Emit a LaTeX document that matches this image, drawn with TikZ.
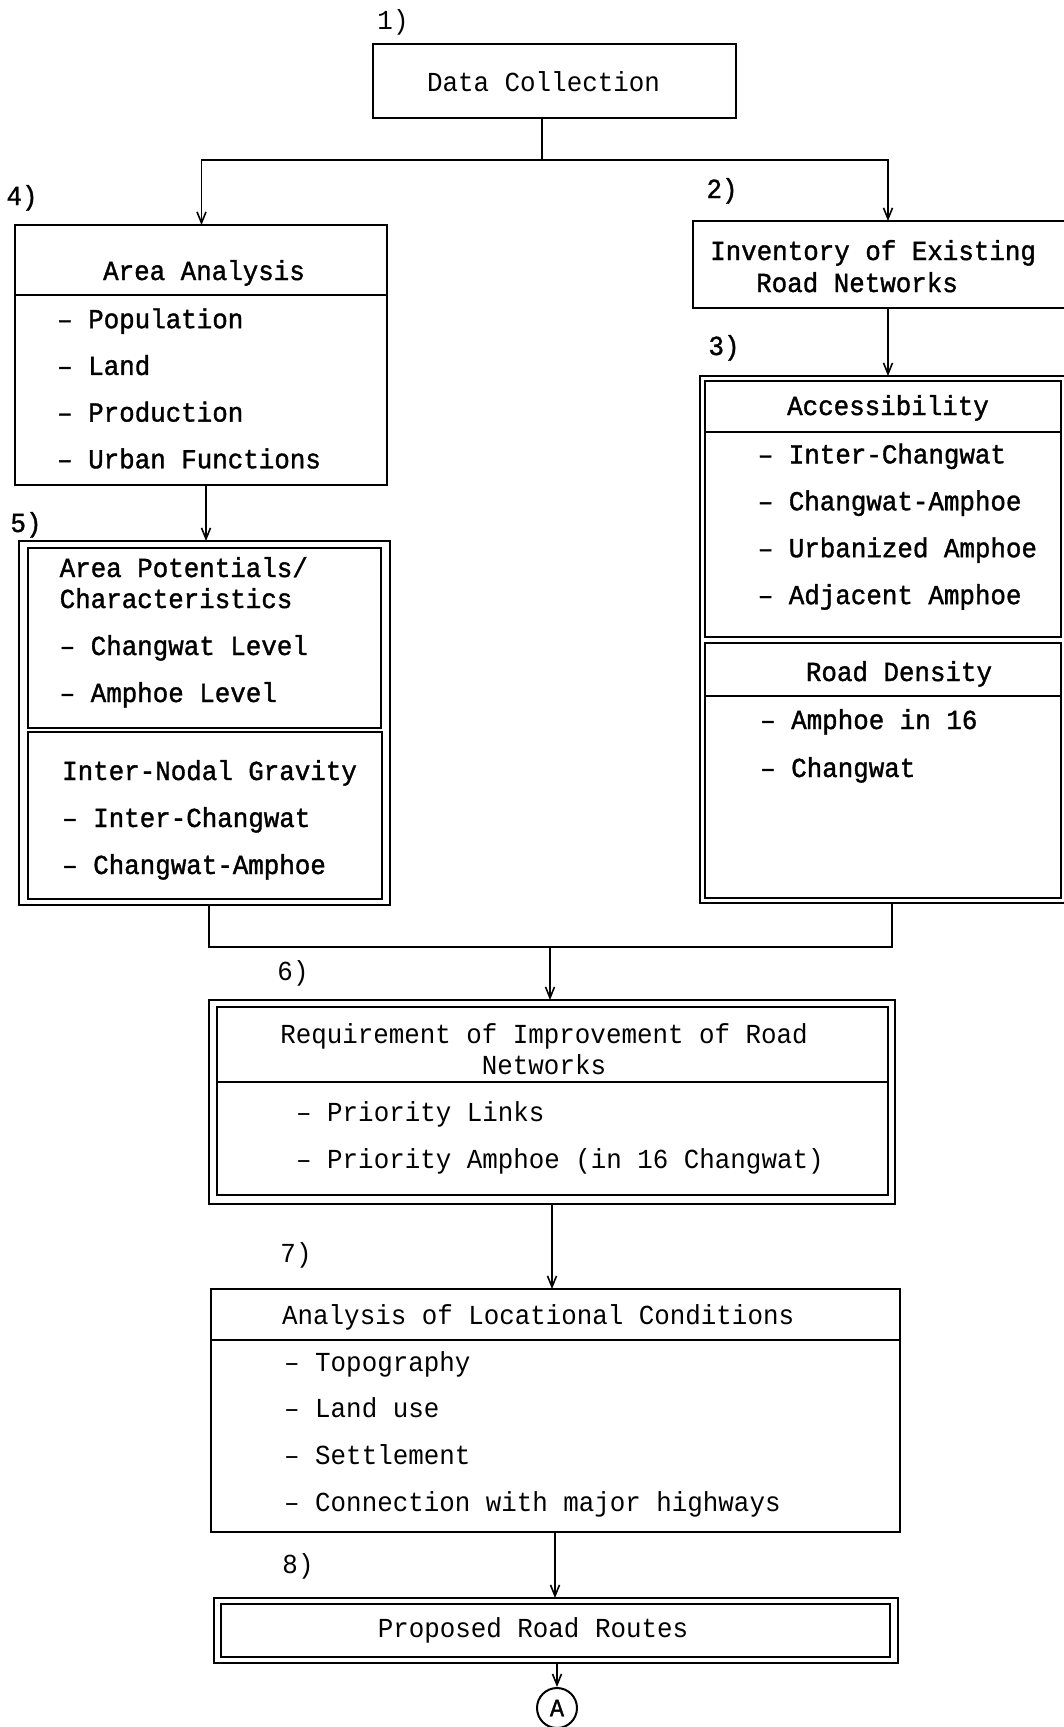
\documentclass[tikz,border=0pt]{standalone}
\usepackage{fontspec}
\usetikzlibrary{arrows.meta,calc}
\newfontfamily\lightmono{Liberation Mono}[FakeStretch=0.94]
\newfontfamily\heavymono{Liberation Mono}[FakeBold=1.3,FakeStretch=0.94]
\frenchspacing

\begin{document}
\begin{tikzpicture}[x=1pt,y=-1pt,
  frame/.style={draw, line width=2.2pt, inner sep=0pt, outer sep=0pt, rectangle},
  link/.style={line width=1.8pt},
  arr/.style={link, -{Straight Barb[length=11pt,width=9pt,line width=1.6pt]}},
  lt/.style={font=\lightmono\fontsize{27.5}{32}\selectfont, inner sep=0pt},
  hv/.style={font=\heavymono\fontsize{27.5}{32}\selectfont, inner sep=0pt},
  ltl/.style={lt, anchor=base west},
  hvl/.style={hv, anchor=base west},
  ltc/.style={lt, anchor=base},
  hvc/.style={hv, anchor=base},
]
\useasboundingbox (0,0) rectangle (1064,1727);

% ---------- boxes ----------
\node[frame, minimum width=363pt, minimum height=74pt]  (dc)  at (554.5,81) {};
\node[frame, minimum width=372pt, minimum height=260pt] (aa)  at (201,355) {};
\node[frame, minimum width=371pt, minimum height=364pt] (b5)  at (204.5,723) {};
\node[frame, minimum width=353pt, minimum height=180pt] (b5a) at (204.5,638) {};
\node[frame, minimum width=354pt, minimum height=167pt] (b5b) at (205,815.5) {};
\node[frame, minimum width=382pt, minimum height=87pt]  (inv) at (884,264.5) {};
\node[frame, minimum width=375pt, minimum height=527pt] (b3)  at (887.5,639.5) {};
\node[frame, minimum width=356pt, minimum height=256pt] (b3a) at (883,509) {};
\node[frame, minimum width=356pt, minimum height=255pt] (b3b) at (883,770.5) {};
\node[frame, minimum width=686pt, minimum height=204pt] (b6)  at (552,1102) {};
\node[frame, minimum width=671pt, minimum height=188pt] (b6i) at (552.5,1101) {};
\node[frame, minimum width=689pt, minimum height=243pt] (b7)  at (555.5,1410.5) {};
\node[frame, minimum width=684pt, minimum height=65pt]  (b8)  at (556,1630.5) {};
\node[frame, minimum width=669pt, minimum height=53pt]  (b8i) at (555.5,1630.5) {};
\node[draw, circle, line width=2pt, minimum size=40pt, inner sep=0pt,
      font=\heavymono\fontsize{25}{30}\selectfont] (ca) at (557,1708) {A};

% header dividers
\draw[line width=2.2pt] ([yshift=-70pt]aa.north west)  -- ([yshift=-70pt]aa.north east);
\draw[line width=2.2pt] ([yshift=-51pt]b3a.north west) -- ([yshift=-51pt]b3a.north east);
\draw[line width=2.2pt] ([yshift=-53pt]b3b.north west) -- ([yshift=-53pt]b3b.north east);
\draw[line width=2.2pt] ([yshift=-75pt]b6i.north west) -- ([yshift=-75pt]b6i.north east);
\draw[line width=2.2pt] ([yshift=-51pt]b7.north west)  -- ([yshift=-51pt]b7.north east);

% ---------- step numbers ----------
\node[ltc] (n1) at (393,29) {1)};
\node[hvc] (n2) at (722,198) {2)};
\node[hvc] (n3) at (724,355) {3)};
\node[hvc] (n4) at (22,205) {4)};
\node[hvc] (n5) at (26,532) {5)};
\node[ltc] (n6) at (293,980) {6)};
\node[ltc] (n7) at (296,1262) {7)};
\node[ltc] (n8) at (298,1573) {8)};

% ---------- texts ----------
\node[ltc] (tdc) at (543.5,91) {Data Collection};

\node[hvc] (taa) at (204,280) {Area Analysis};
\foreach \t [count=\i] in {Population, Land, Production, Urban Functions}
  \node[hvl] (taa\i) at ({57},{281.5+46.7*\i}) {– \t};

\node[hvl] (tap1) at (59.5,577) {Area Potentials/};
\node[hvl] (tap2) at (59.5,608) {Characteristics};
\node[hvl] (tap3) at (59.5,655) {– Changwat Level};
\node[hvl] (tap4) at (59.5,702) {– Amphoe Level};

\node[hvl] (tng)  at (62,780) {Inter-Nodal Gravity};
\node[hvl] (tng1) at (62,827) {– Inter-Changwat};
\node[hvl] (tng2) at (62,874) {– Changwat-Amphoe};

\node[hvl] (tin1) at (710,260) {Inventory of Existing};
\node[hvl] (tin2) at (756,292) {Road Networks};

\node[hvc] (tac) at (888,415) {Accessibility};
\foreach \t [count=\i] in {Inter-Changwat, Changwat-Amphoe, Urbanized Amphoe, Adjacent Amphoe}
  \node[hvl] (tac\i) at ({757.6},{416.5+46.9*\i}) {– \t};

\node[hvc] (trd) at (899,681) {Road Density};
\node[hvl] (trd1) at (760,729) {– Amphoe in 16};
\node[hvl] (trd2) at (760,777) {– Changwat};

\node[ltc] (trq1) at (544,1043) {Requirement of Improvement of Road};
\node[ltc] (trq2) at (544,1074) {Networks};
\node[ltl] (trq3) at (296,1121) {– Priority Links};
\node[ltl] (trq4) at (296,1168) {– Priority Amphoe (in 16 Changwat)};

\node[ltl] (tlc) at (282,1324) {Analysis of Locational Conditions};
\foreach \t [count=\i] in {Topography, Land use, Settlement, Connection with major highways}
  \node[ltl] (tlc\i) at ({284},{1324.5+46.7*\i}) {– \t};

\node[ltc] (tpr) at (533,1637) {Proposed Road Routes};

% ---------- connectors ----------
\coordinate (j1) at (542,160);
\coordinate (j2) at (550,947);
\draw[link] (dc.south -| j1) -- (j1);
\draw[arr] (j1) -| ([xshift=0.5pt]aa.north);
\draw[arr] (j1) -| ([xshift=4pt]inv.north);
\draw[arr] ([xshift=5pt]aa.south) -- ([xshift=5pt]aa.south |- b5.north);
\draw[arr] ([xshift=4pt]inv.south) -- ([xshift=4pt]inv.south |- b3.north);
\draw[link] ([xshift=4.5pt]b5.south) |- (j2);
\draw[link] (j2) -| ([xshift=4.5pt]b3.south);
\draw[arr] (j2) -- (j2 |- b6.north);
\draw[arr] (b6.south) -- (b6.south |- b7.north);
\draw[arr] ([xshift=-0.5pt]b7.south) -- ([xshift=-0.5pt]b7.south |- b8.north);
\draw[arr] ([xshift=1pt]b8.south) -- (ca.north);
\end{tikzpicture}
\end{document}
